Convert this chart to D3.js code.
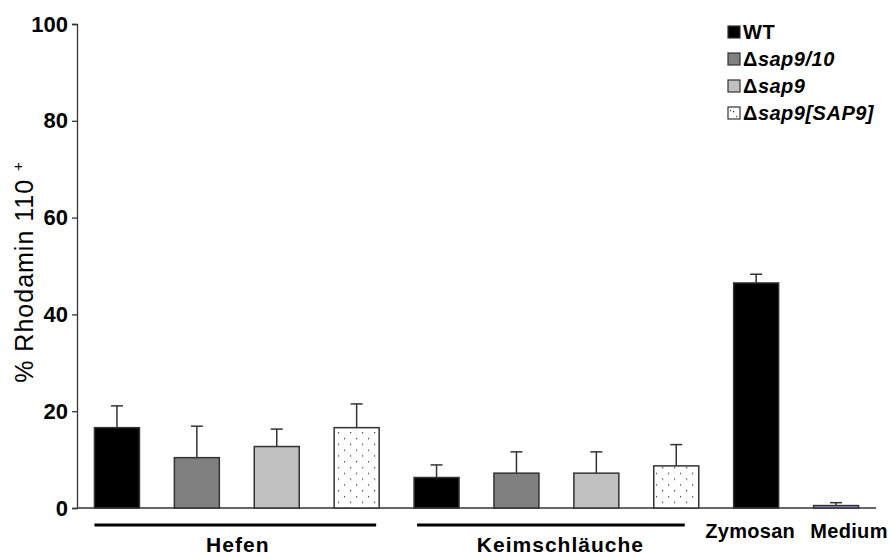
<!DOCTYPE html>
<html>
<head>
<meta charset="utf-8">
<script src="https://cdn.jsdelivr.net/npm/d3@7"></script>
<style>
  html, body { margin: 0; padding: 0; background: #fff; }
  svg { display: block; }
  text { font-family: "Liberation Sans", Arial, sans-serif; fill: #000; }
</style>
</head>
<body>
<svg id="chart" width="891" height="558"></svg>
<script>
// Strains shown in the legend and used for both cell groups
const strains = ["WT", "Δsap9/10", "Δsap9", "Δsap9[SAP9]"];
const groups = ["Hefen", "Keimschläuche"];
const hefenMean = [16.6, 10.4, 12.7, 16.6];
const hefenErr = [4.5, 6.5, 3.6, 4.9];
const keimMean = [6.3, 7.2, 7.2, 8.7];
const keimErr = [2.6, 4.4, 4.4, 4.4];
const controls = ["Zymosan", "Medium"];
const controlMean = [46.5, 0.5];
const controlErr = [1.8, 0.6];
const yTicks = [0, 20, 40, 60, 80, 100];

const fills = ["#000000", "#808080", "#c0c0c0", "url(#dots)"];
const controlFills = ["#000000", "#9a9af0"];

// Flat list of bars in plotting order
const bars = [];
hefenMean.forEach((v, i) => bars.push({ key: "h" + i, value: v, err: hefenErr[i], fill: fills[i], group: 0 }));
keimMean.forEach((v, i) => bars.push({ key: "k" + i, value: v, err: keimErr[i], fill: fills[i], group: 1 }));
controlMean.forEach((v, i) => bars.push({ key: "c" + i, value: v, err: controlErr[i], fill: controlFills[i], label: controls[i] }));

const svg = d3.select("#chart");

// dotted fill for the complemented strain
const defs = svg.append("defs");
const pat = defs.append("pattern").attr("id", "dots")
  .attr("patternUnits", "userSpaceOnUse").attr("width", 12).attr("height", 11.6);
pat.append("rect").attr("width", 12).attr("height", 11.6).attr("fill", "#fff");
pat.append("rect").attr("x", 2).attr("y", 3).attr("width", 1.2).attr("height", 1.2).attr("fill", "#333");
pat.append("rect").attr("x", 8).attr("y", 8.8).attr("width", 1.2).attr("height", 1.2).attr("fill", "#333");

const x = d3.scaleBand().domain(bars.map(d => d.key)).range([77, 876])
  .paddingInner(0.437).paddingOuter(0.2185);
const y = d3.scaleLinear().domain([0, 100]).range([508, 24]);

// y axis
const yAxis = svg.append("g").attr("transform", "translate(77,0)")
  .call(d3.axisLeft(y).tickValues(yTicks).tickSize(5).tickPadding(4));
yAxis.select(".domain").attr("stroke", "#333").attr("stroke-width", 1.3);
yAxis.selectAll(".tick line").attr("stroke", "#333").attr("stroke-width", 1.3);
yAxis.selectAll(".tick text").attr("font-size", 22).attr("font-weight", "bold")
  .attr("font-family", "Liberation Sans, Arial, sans-serif").attr("fill", "#000");

// baseline
svg.append("line").attr("x1", 77).attr("x2", 876).attr("y1", y(0)).attr("y2", y(0))
  .attr("stroke", "#333").attr("stroke-width", 1.3);

// y title
const yTitle = svg.append("text")
  .attr("transform", `translate(33,272) rotate(-90)`)
  .attr("text-anchor", "middle").attr("font-size", 25).attr("letter-spacing", 1);
yTitle.append("tspan").text("% Rhodamin 110 ");
yTitle.append("tspan").attr("font-size", 15).attr("dy", -10).text("+");

// error bars (upper only)
const eb = svg.append("g").selectAll("g").data(bars).join("g");
eb.append("line")
  .attr("x1", d => x(d.key) + x.bandwidth() / 2).attr("x2", d => x(d.key) + x.bandwidth() / 2)
  .attr("y1", d => y(d.value)).attr("y2", d => y(d.value + d.err))
  .attr("stroke", "#333").attr("stroke-width", 1.5);
eb.append("line")
  .attr("x1", d => x(d.key) + x.bandwidth() / 2 - 6).attr("x2", d => x(d.key) + x.bandwidth() / 2 + 6)
  .attr("y1", d => y(d.value + d.err)).attr("y2", d => y(d.value + d.err))
  .attr("stroke", "#333").attr("stroke-width", 1.5);

// bars
svg.append("g").selectAll("rect").data(bars).join("rect")
  .attr("x", d => x(d.key)).attr("width", x.bandwidth())
  .attr("y", d => y(d.value)).attr("height", d => y(0) - y(d.value))
  .attr("fill", d => d.fill).attr("stroke", "#333").attr("stroke-width", 1.5);

// group underlines and labels
groups.forEach((g, gi) => {
  const members = bars.filter(d => d.group === gi);
  const x0 = x(members[0].key) + (gi === 0 ? 0 : 3);
  const x1 = x(members[members.length - 1].key) + x.bandwidth() - (gi === 0 ? 3 : 14);
  svg.append("line").attr("x1", x0).attr("x2", x1).attr("y1", 525).attr("y2", 525)
    .attr("stroke", "#000").attr("stroke-width", 3);
  svg.append("text").attr("x", (x(members[0].key) + x(members[members.length - 1].key) + x.bandwidth()) / 2 + (gi === 0 ? 1 : 4))
    .attr("y", 552).attr("text-anchor", "middle").attr("font-size", 21).attr("font-weight", "bold")
    .attr("letter-spacing", 1).text(g);
});

// control labels
svg.append("g").selectAll("text").data(bars.filter(d => d.label)).join("text")
  .attr("x", d => x(d.key) + x.bandwidth() / 2 + (d.label === "Medium" ? 13 : -6))
  .attr("y", 538).attr("text-anchor", "middle").attr("font-size", 20).attr("font-weight", "bold")
  .attr("letter-spacing", 0.3).text(d => d.label);

// legend
const legend = svg.append("g").attr("transform", "translate(728,26)");
const rows = legend.selectAll("g").data(strains).join("g")
  .attr("transform", (d, i) => `translate(0,${i * 27})`);
rows.append("rect").attr("width", 12).attr("height", 12)
  .attr("fill", (d, i) => fills[i]).attr("stroke", "#333").attr("stroke-width", 1.2);
rows.filter((d, i) => i === 3).append("rect").attr("x", 5).attr("y", 4).attr("width", 1.3).attr("height", 1.3).attr("fill", "#333");
rows.append("text").attr("x", 15).attr("y", 13).attr("font-size", 20).attr("font-weight", "bold")
  .attr("letter-spacing", 0.5)
  .each(function (d) {
    const t = d3.select(this);
    if (d.startsWith("Δ")) {
      t.append("tspan").text("Δ");
      t.append("tspan").attr("font-style", "italic").text(d.slice(1));
    } else {
      t.text(d);
    }
  });
</script>
</body>
</html>
